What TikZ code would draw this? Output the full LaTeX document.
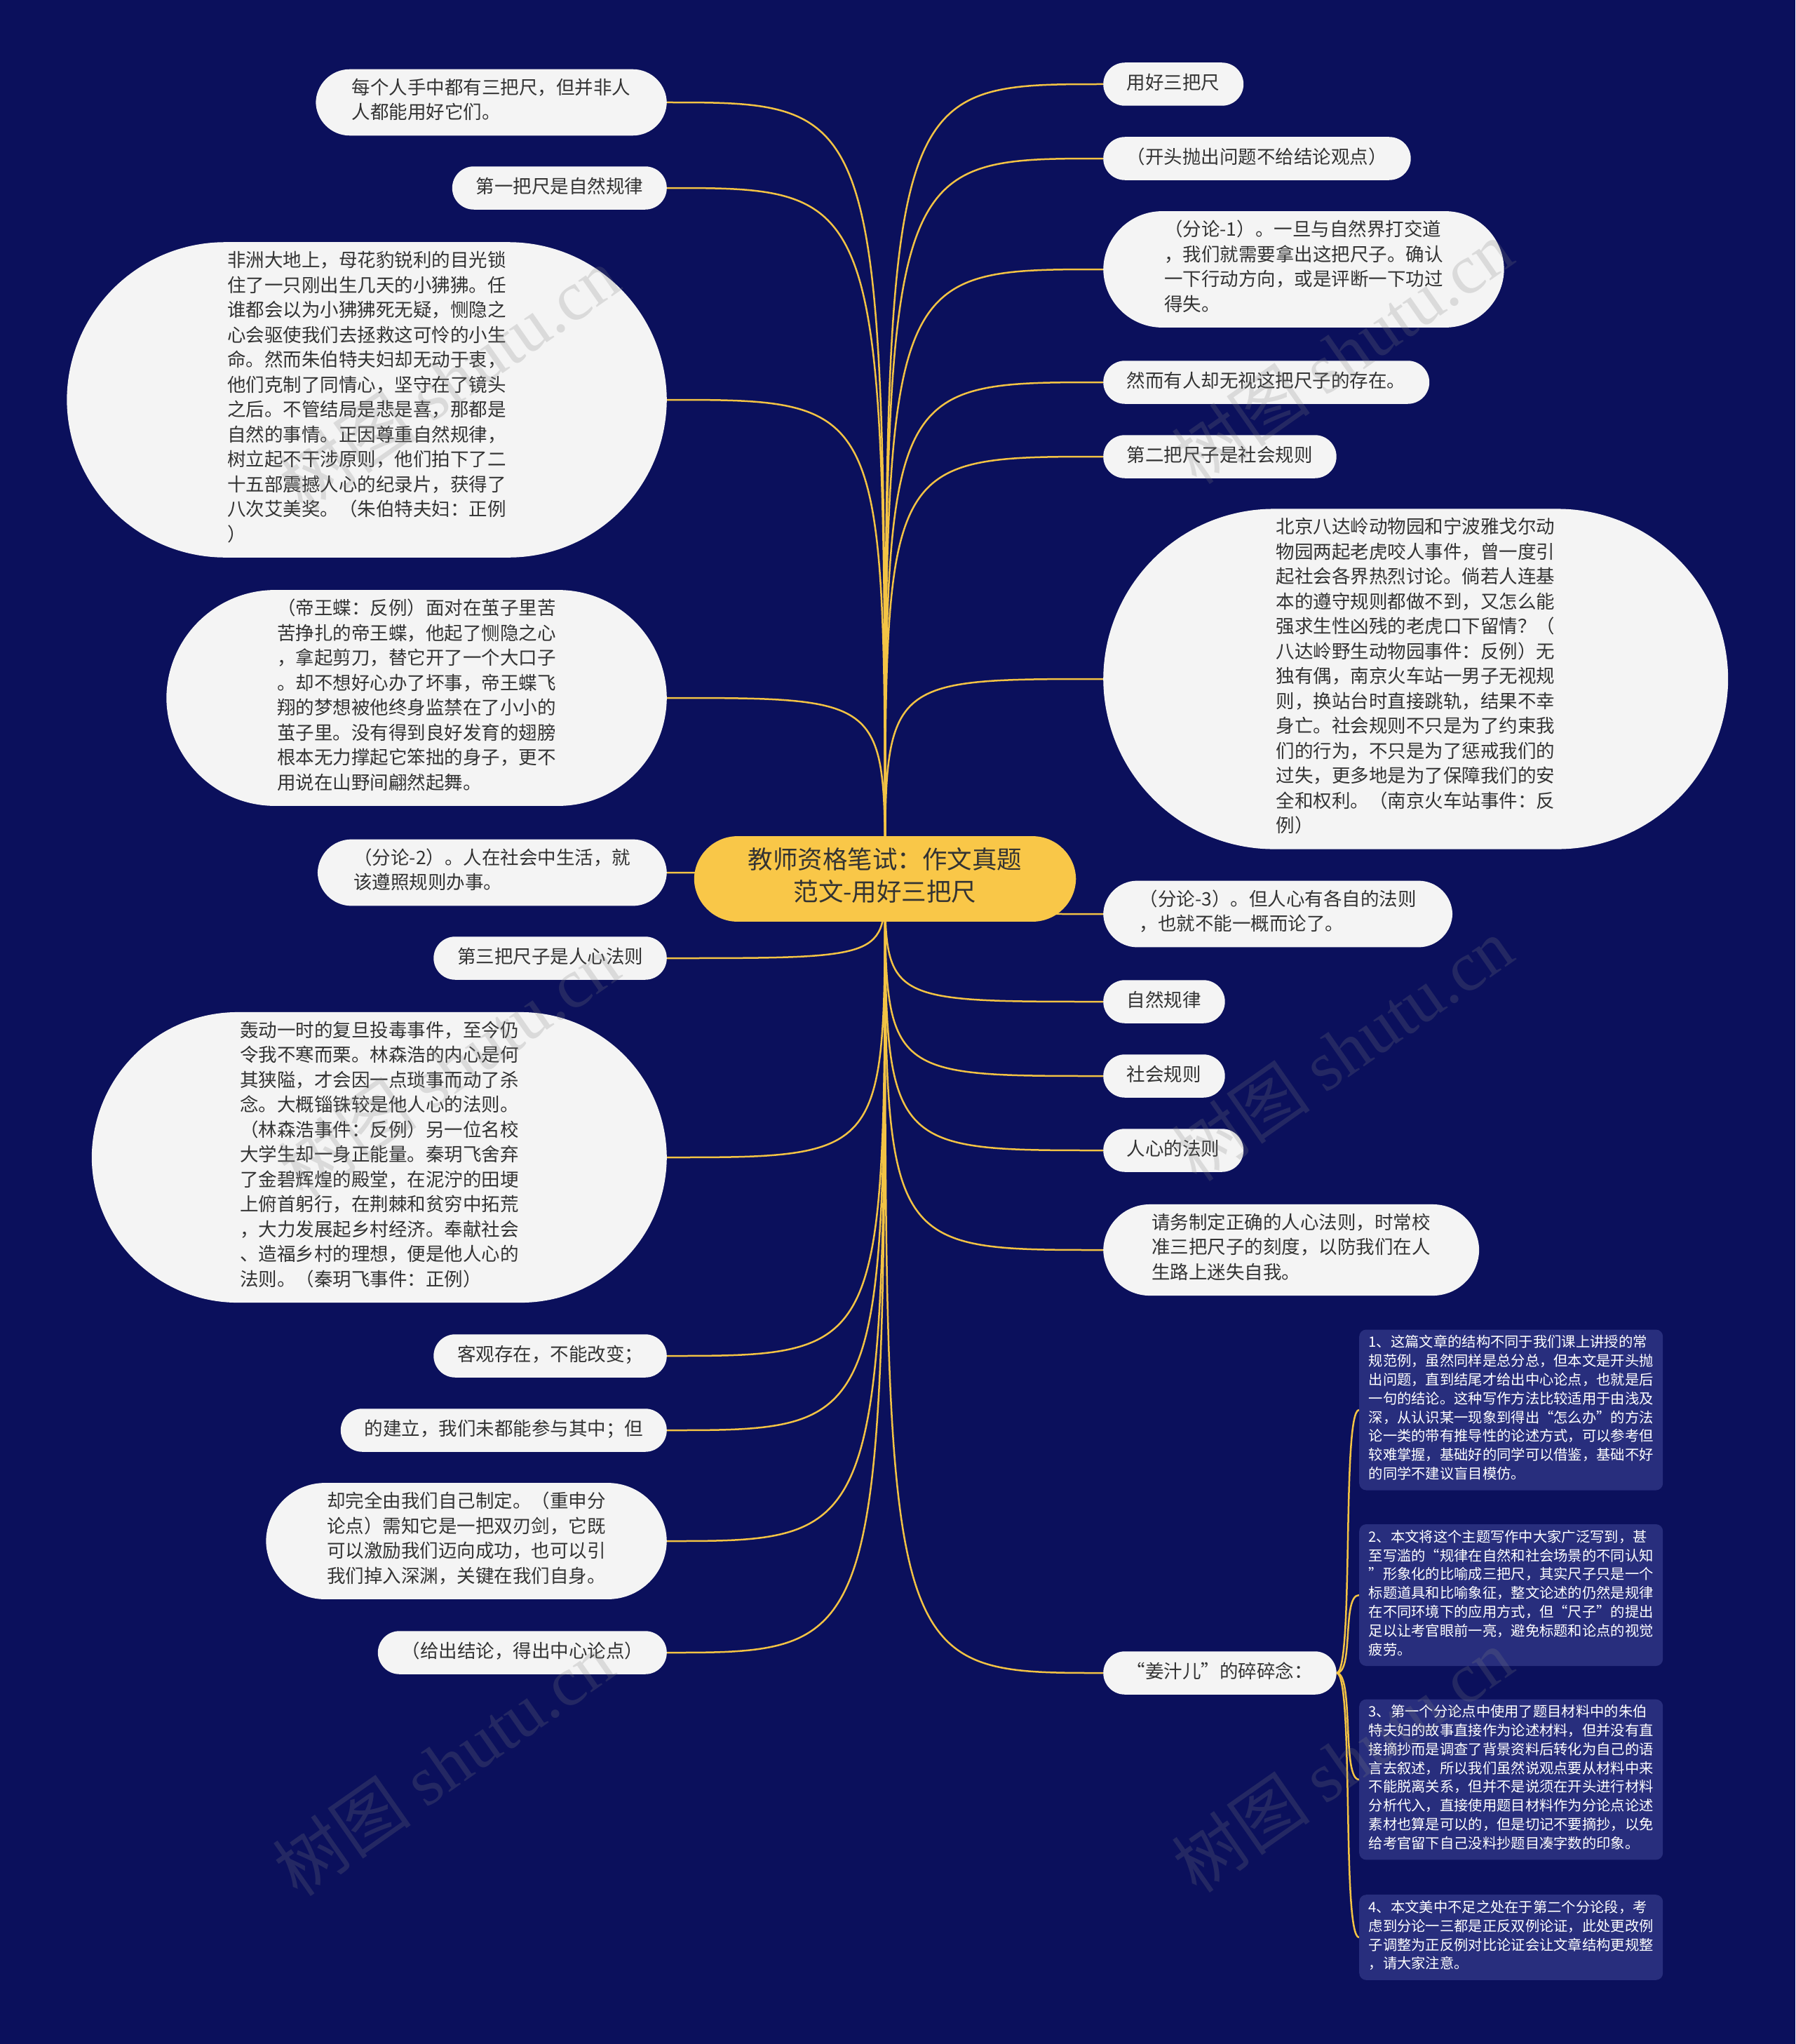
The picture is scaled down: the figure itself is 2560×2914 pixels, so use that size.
\documentclass[tikz,border=0pt]{standalone}
\usepackage{fontspec}
\setmainfont{Noto Sans CJK SC}
\newfontfamily\wmserif{Liberation Serif}

\definecolor{navy}{HTML}{0B105C}
\definecolor{leafbg}{HTML}{F4F4F4}
\definecolor{leaftext}{HTML}{333333}
\definecolor{rootbg}{HTML}{F9C748}
\definecolor{linkcol}{HTML}{F3C344}
\definecolor{notebg}{HTML}{282E7D}

\pgfdeclarelayer{paper}
\pgfdeclarelayer{links}
\pgfsetlayers{paper,links,main}

\begin{document}
\begin{tikzpicture}[
    x=1pt, y=-1pt,
    root/.style={rectangle, rounded corners=62pt, fill=rootbg, text=leaftext, align=center, inner xsep=77pt, inner ysep=16pt, font=\fontsize{35.5}{46}\selectfont, execute at begin node=\strut, execute at end node=\strut},
    leaf/.style={rectangle, rounded corners={(#1*35.5+26)/2}, fill=leafbg, text=leaftext, align=left, inner xsep={(#1*35.5+26)/2+3}, inner ysep=13pt, font=\fontsize{26.5}{35.5}\selectfont, execute at begin node=\strut, execute at end node=\strut},
    leaf/.default=1,
    lleaf/.style={leaf=#1, anchor=east},
    lleaf/.default=1,
    rleaf/.style={leaf=#1, anchor=west},
    rleaf/.default=1,
    note/.style={rectangle, rounded corners=10pt, fill=notebg, text=white, align=left, anchor=west, minimum width=433pt, inner xsep=13pt, inner ysep=8pt, font=\fontsize{20.3}{26.8}\selectfont, execute at begin node=\strut, execute at end node=\strut},
    link/.style={draw=linkcol, line width=2.5pt},
    wm/.style={text=gray, opacity=0.22, rotate=35, font=\fontsize{100}{100}\selectfont}
]

\useasboundingbox (0,0) rectangle (2560,2914);
\begin{pgfonlayer}{paper}
\fill[navy] (0,0) rectangle (2560,2914);
\end{pgfonlayer}

\node[root] (exam) at (1262,1253) {教师资格笔试：作文真题\\范文-用好三把尺};

\node[lleaf=2] (holders) at (951,146) {每个人手中都有三把尺，但并非人\\人都能用好它们。};
\node[lleaf] (first) at (951,268) {第一把尺是自然规律};
\node[lleaf=12] (baboon) at (951,570) {非洲大地上，母花豹锐利的目光锁\\住了一只刚出生几天的小狒狒。任\\谁都会以为小狒狒死无疑，恻隐之\\心会驱使我们去拯救这可怜的小生\\命。然而朱伯特夫妇却无动于衷，\\他们克制了同情心，坚守在了镜头\\之后。不管结局是悲是喜，那都是\\自然的事情。正因尊重自然规律，\\树立起不干涉原则，他们拍下了二\\十五部震撼人心的纪录片，获得了\\八次艾美奖。（朱伯特夫妇：正例\\）};
\node[lleaf=8] (butterfly) at (951,995) {（帝王蝶：反例）面对在茧子里苦\\苦挣扎的帝王蝶，他起了恻隐之心\\，拿起剪刀，替它开了一个大口子\\。却不想好心办了坏事，帝王蝶飞\\翔的梦想被他终身监禁在了小小的\\茧子里。没有得到良好发育的翅膀\\根本无力撑起它笨拙的身子，更不\\用说在山野间翩然起舞。};
\node[lleaf=2] (part2) at (951,1244) {（分论-2）。人在社会中生活，就\\该遵照规则办事。};
\node[lleaf] (third) at (951,1366) {第三把尺子是人心法则};
\node[lleaf=11] (poison) at (951,1650) {轰动一时的复旦投毒事件，至今仍\\令我不寒而栗。林森浩的内心是何\\其狭隘，才会因一点琐事而动了杀\\念。大概锱铢较是他人心的法则。\\（林森浩事件：反例）另一位名校\\大学生却一身正能量。秦玥飞舍弃\\了金碧辉煌的殿堂，在泥泞的田埂\\上俯首躬行，在荆棘和贫穷中拓荒\\，大力发展起乡村经济。奉献社会\\、造福乡村的理想，便是他人心的\\法则。（秦玥飞事件：正例）};
\node[lleaf] (objective) at (951,1933) {客观存在，不能改变；};
\node[lleaf] (build) at (951,2039) {的建立，我们未都能参与其中；但};
\node[lleaf=4] (selfmade) at (951,2197) {却完全由我们自己制定。（重申分\\论点）需知它是一把双刃剑，它既\\可以激励我们迈向成功，也可以引\\我们掉入深渊，关键在我们自身。};
\node[lleaf] (conclude) at (951,2356) {（给出结论，得出中心论点）};

\node[rleaf] (title) at (1573,120) {用好三把尺};
\node[rleaf] (opening) at (1573,226) {（开头抛出问题不给结论观点）};
\node[rleaf=4] (part1) at (1573,384) {（分论-1）。一旦与自然界打交道\\，我们就需要拿出这把尺子。确认\\一下行动方向，或是评断一下功过\\得失。};
\node[rleaf] (ignore) at (1573,545) {然而有人却无视这把尺子的存在。};
\node[rleaf] (second) at (1573,651) {第二把尺子是社会规则};
\node[rleaf=13] (tiger) at (1573,968) {北京八达岭动物园和宁波雅戈尔动\\物园两起老虎咬人事件，曾一度引\\起社会各界热烈讨论。倘若人连基\\本的遵守规则都做不到，又怎么能\\强求生性凶残的老虎口下留情？（\\八达岭野生动物园事件：反例）无\\独有偶，南京火车站一男子无视规\\则，换站台时直接跳轨，结果不幸\\身亡。社会规则不只是为了约束我\\们的行为，不只是为了惩戒我们的\\过失，更多地是为了保障我们的安\\全和权利。（南京火车站事件：反\\例）};
\node[rleaf=2] (part3) at (1573,1303) {（分论-3）。但人心有各自的法则\\，也就不能一概而论了。};
\node[rleaf] (nature) at (1573,1428) {自然规律};
\node[rleaf] (society) at (1573,1534) {社会规则};
\node[rleaf] (heart) at (1573,1640) {人心的法则};
\node[rleaf=3] (calibrate) at (1573,1782) {请务制定正确的人心法则，时常校\\准三把尺子的刻度，以防我们在人\\生路上迷失自我。};
\node[rleaf] (ginger) at (1573,2385) {“姜汁儿”的碎碎念：};

\node[note] (tip1) at (1938,2010) {1、这篇文章的结构不同于我们课上讲授的常\\规范例，虽然同样是总分总，但本文是开头抛\\出问题，直到结尾才给出中心论点，也就是后\\一句的结论。这种写作方法比较适用于由浅及\\深，从认识某一现象到得出“怎么办”的方法\\论一类的带有推导性的论述方式，可以参考但\\较难掌握，基础好的同学可以借鉴，基础不好\\的同学不建议盲目模仿。};
\node[note] (tip2) at (1938,2274) {2、本文将这个主题写作中大家广泛写到，甚\\至写滥的“规律在自然和社会场景的不同认知\\”形象化的比喻成三把尺，其实尺子只是一个\\标题道具和比喻象征，整文论述的仍然是规律\\在不同环境下的应用方式，但“尺子”的提出\\足以让考官眼前一亮，避免标题和论点的视觉\\疲劳。};
\node[note] (tip3) at (1938,2537) {3、第一个分论点中使用了题目材料中的朱伯\\特夫妇的故事直接作为论述材料，但并没有直\\接摘抄而是调查了背景资料后转化为自己的语\\言去叙述，所以我们虽然说观点要从材料中来\\不能脱离关系，但并不是说须在开头进行材料\\分析代入，直接使用题目材料作为分论点论述\\素材也算是可以的，但是切记不要摘抄，以免\\给考官留下自己没料抄题目凑字数的印象。};
\node[note] (tip4) at (1938,2762) {4、本文美中不足之处在于第二个分论段，考\\虑到分论一三都是正反双例论证，此处更改例\\子调整为正反例对比论证会让文章结构更规整\\，请大家注意。};

\begin{pgfonlayer}{links}
\draw[link] (exam.center) .. controls (exam.center |- holders.east) .. (holders.east);
\draw[link] (exam.center) .. controls (exam.center |- first.east) .. (first.east);
\draw[link] (exam.center) .. controls (exam.center |- baboon.east) .. (baboon.east);
\draw[link] (exam.center) .. controls (exam.center |- butterfly.east) .. (butterfly.east);
\draw[link] (exam.center) .. controls (exam.center |- part2.east) .. (part2.east);
\draw[link] (exam.center) .. controls (exam.center |- third.east) .. (third.east);
\draw[link] (exam.center) .. controls (exam.center |- poison.east) .. (poison.east);
\draw[link] (exam.center) .. controls (exam.center |- objective.east) .. (objective.east);
\draw[link] (exam.center) .. controls (exam.center |- build.east) .. (build.east);
\draw[link] (exam.center) .. controls (exam.center |- selfmade.east) .. (selfmade.east);
\draw[link] (exam.center) .. controls (exam.center |- conclude.east) .. (conclude.east);

\draw[link] (exam.center) .. controls (exam.center |- title.west) .. (title.west);
\draw[link] (exam.center) .. controls (exam.center |- opening.west) .. (opening.west);
\draw[link] (exam.center) .. controls (exam.center |- part1.west) .. (part1.west);
\draw[link] (exam.center) .. controls (exam.center |- ignore.west) .. (ignore.west);
\draw[link] (exam.center) .. controls (exam.center |- second.west) .. (second.west);
\draw[link] (exam.center) .. controls (exam.center |- tiger.west) .. (tiger.west);
\draw[link] (exam.center) .. controls (exam.center |- part3.west) .. (part3.west);
\draw[link] (exam.center) .. controls (exam.center |- nature.west) .. (nature.west);
\draw[link] (exam.center) .. controls (exam.center |- society.west) .. (society.west);
\draw[link] (exam.center) .. controls (exam.center |- heart.west) .. (heart.west);
\draw[link] (exam.center) .. controls (exam.center |- calibrate.west) .. (calibrate.west);
\draw[link] (exam.center) .. controls (exam.center |- ginger.west) .. (ginger.west);

\draw[link] (ginger.east) .. controls +(25,0) and +(-25,0) .. (tip1.west);
\draw[link] (ginger.east) .. controls +(25,0) and +(-25,0) .. (tip2.west);
\draw[link] (ginger.east) .. controls +(25,0) and +(-25,0) .. (tip3.west);
\draw[link] (ginger.east) .. controls +(25,0) and +(-25,0) .. (tip4.west);
\end{pgfonlayer}

\node[wm] (wm1) at (640,540) {树图 {\wmserif shutu.cn}};
\node[wm] (wm2) at (1914,502) {树图 {\wmserif shutu.cn}};
\node[wm] (wm3) at (640,1520) {树图 {\wmserif shutu.cn}};
\node[wm] (wm4) at (1914,1496) {树图 {\wmserif shutu.cn}};
\node[wm] (wm5) at (632,2515) {树图 {\wmserif shutu.cn}};
\node[wm] (wm6) at (1914,2510) {树图 {\wmserif shutu.cn}};

\end{tikzpicture}
\end{document}
